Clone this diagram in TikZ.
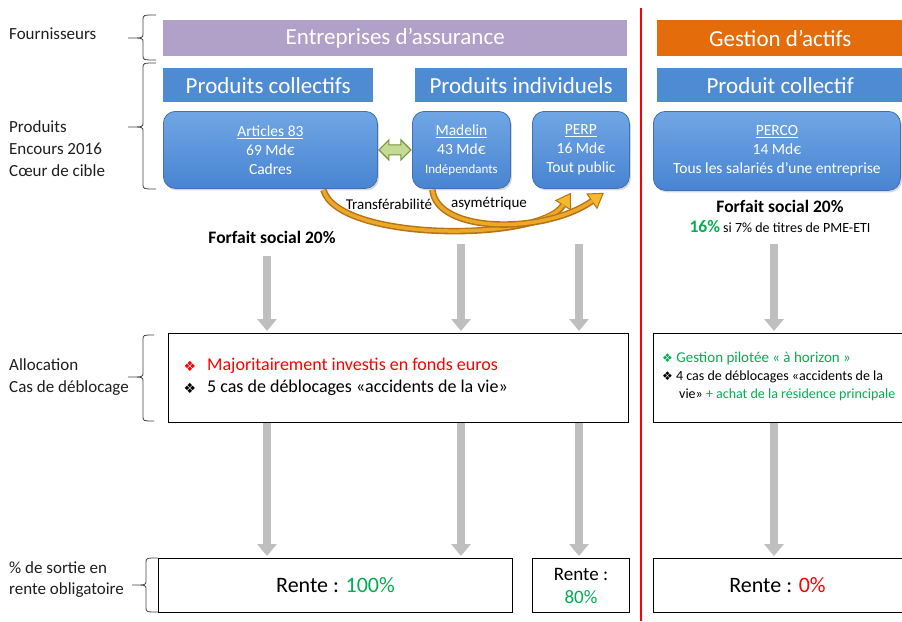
\documentclass[tikz,border=0pt]{standalone}
\usepackage{fontspec}
\setmainfont{Carlito}
\newfontfamily\dejavu{DejaVu Sans}
\usetikzlibrary{shadows,arrows.meta,calc}
\definecolor{purp}{RGB}{177,160,199}
\definecolor{orng}{RGB}{228,108,10}
\definecolor{barblue}{RGB}{79,139,211}
\definecolor{boxtop}{RGB}{112,166,228}
\definecolor{boxbot}{RGB}{72,132,210}
\definecolor{boxedge}{RGB}{62,112,178}
\definecolor{ogreen}{RGB}{0,176,80}
\definecolor{gry}{RGB}{191,191,191}
\definecolor{goldedge}{RGB}{185,115,20}
\definecolor{goldfill}{RGB}{236,168,40}
\definecolor{goldhead}{RGB}{245,185,45}
\definecolor{lgreen}{RGB}{196,218,150}
\definecolor{dgreen}{RGB}{118,150,60}
\definecolor{brc}{RGB}{70,70,70}
\newcommand{\mybul}{{\dejavu\fontsize{14}{15}\selectfont ❖}}
\newcommand{\fs}[1]{\fontsize{#1}{#1}\selectfont}
% #1 x of ends, #2 x of spine, #3 x of tip, #4 y top, #5 y bottom, #6 y tip
\newcommand{\mybrace}[6]{%
  \draw[bracestyle] (#1,#4) .. controls (#2,#4) .. (#2,#4+5) -- (#2,#6-4)
    .. controls (#2,#6) .. (#3,#6) .. controls (#2,#6) .. (#2,#6+4)
    -- (#2,#5-5) .. controls (#2,#5) .. (#1,#5);}
\begin{document}
\begin{tikzpicture}[x=1pt,y=-1pt,
  bar/.style={anchor=north west, minimum height=36, inner sep=0, text=white, font=\fs{23}},
  prodbox/.style={anchor=north west, rounded corners=12, top color=boxtop, bottom color=boxbot,
    draw=boxedge, line width=0.8, drop shadow={opacity=0.3, shadow xshift=1.5pt, shadow yshift=-2pt},
    text=white, align=center, inner sep=0},
  framebox/.style={anchor=north west, draw=black, line width=1, inner sep=0},
  lbl/.style={anchor=west, align=left, inner sep=0, text=black!88},
  bracestyle/.style={draw=brc, line width=0.8},
  grayarrow/.style={draw=gry, line width=8, -{Triangle[length=12,width=19]}},
  goldout/.style={draw=goldedge, line width=6.5, -{Triangle[length=15,width=19,color=goldedge,fill=goldhead,line width=1]}},
  goldin/.style={draw=goldfill, line width=3.5, shorten >=14},
  txt/.style={inner sep=0}
]
\useasboundingbox (0,0) rectangle (902,621);
\fill[white] (0,0) rectangle (902,621);

% left labels
\node[lbl, font=\fs{17}] (lf) at (9,34) {Fournisseurs};
\node[lbl, font=\fontsize{17}{22}\selectfont] (lp) at (9,149) {Produits\\Encours 2016\\Cœur de cible};
\node[lbl, font=\fontsize{17}{22}\selectfont] (la) at (9,377) {Allocation\\Cas de déblocage};
\node[lbl, font=\fontsize{17}{21}\selectfont] (ls) at (9,580) {\% de sortie en\\rente obligatoire};

% braces
\mybrace{156}{143}{128}{15}{60}{38}
\mybrace{156}{143}{128}{63}{189}{127}
\mybrace{154}{143}{128}{335}{421}{377}
\mybrace{158}{146}{132}{558}{612}{585}

% red divider
\draw[red, line width=2.6] (641,8) -- (641,621);

% bars
\node[bar, fill=purp, minimum width=464] (ea) at (163,20) {Entreprises d’assurance};
\node[bar, fill=orng, minimum width=246] (ga) at (657,20) {Gestion d’actifs};
\node[bar, fill=barblue, minimum width=210, minimum height=34] (pc) at (163,68) {Produits collectifs};
\node[bar, fill=barblue, minimum width=212, minimum height=34] (pi) at (415,68) {Produits individuels};
\node[bar, fill=barblue, minimum width=246, minimum height=34] (pc2) at (657,68) {Produit collectif};

% product boxes
\node[prodbox, minimum width=214, minimum height=77, font=\fontsize{15.5}{19}\selectfont] (art) at (163,111)
  {\underline{Articles 83}\\69 Md€\\Cadres};
\node[prodbox, minimum width=98, minimum height=77, font=\fontsize{15.5}{19}\selectfont] (mad) at (412,111)
  {\underline{Madelin}\\43 Md€\\{\fs{13}Indépendants}};
\node[prodbox, minimum width=97, minimum height=77, font=\fontsize{15.5}{19}\selectfont] (perp) at (532,111)
  {\underline{PERP}\\16 Md€\\Tout public};
\node[prodbox, minimum width=247, minimum height=79, font=\fontsize{15.5}{19}\selectfont] (perco) at (653,111)
  {\underline{PERCO}\\14 Md€\\Tous les salariés d’une entreprise};

% green double arrow
\path (art.east) -- (mad.west) coordinate[midway] (gam);
\draw[fill=lgreen, draw=dgreen, line width=1.1, shift={(gam)}]
  (-16,0) -- (-6,-10) -- (-6,-5) -- (6,-5) -- (6,-10) -- (16,0) -- (6,10) -- (6,5) -- (-6,5) -- (-6,10) -- cycle;

% orange transfer arrows
\coordinate (a1s) at ([xshift=53,yshift=-1]art.south);
\coordinate (a1e) at ([xshift=-10,yshift=-4]perp.south);
\coordinate (a2s) at ([xshift=-29,yshift=-1]mad.south);
\coordinate (a2e) at ([xshift=23,yshift=-4]perp.south);
\draw[goldout] (a1s) .. controls (338,242) and (540,242) .. (a1e);
\draw[goldin]  (a1s) .. controls (338,242) and (540,242) .. (a1e);
\draw[goldout] (a2s) .. controls (437,234) and (545,234) .. (a2e);
\draw[goldin]  (a2s) .. controls (437,234) and (545,234) .. (a2e);
\node[txt, font=\fs{15}] (tr) at (389,204) {Transférabilité};
\node[txt, font=\fs{15}] (as) at (489,204) {asymétrique};

% forfait social
\node[txt, font=\bfseries\fs{17.5}] (fs1) at (272,237) {Forfait social 20\%};
\node[txt, font=\bfseries\fs{17.5}] (fs2) at (780,206) {Forfait social 20\%};
\node[txt, font=\fs{14}] (fs3) at (780,227) {{\bfseries\fs{17.5}\color{ogreen}16\%} si 7\% de titres de PME-ETI};

% allocation boxes
\node[framebox, minimum width=460, minimum height=89] (al1) at (168,333) {};
\node[framebox, minimum width=252, minimum height=89] (al2) at (653,333) {};
\node[txt, text=red] (b1) at (190,366) {\mybul};
\node[txt, anchor=west, text=red, font=\fs{18}] (t1) at (207,366) {Majoritairement investis en fonds euros};
\node[txt] (b2) at (190,388) {\mybul};
\node[txt, anchor=west, font=\fs{18}] (t2) at (207,388) {5 cas de déblocages «accidents de la vie»};
\node[txt, anchor=west, text=ogreen, font=\fs{15}] (r1) at (662,358) {{\dejavu\fs{12}❖} Gestion pilotée « à horizon »};
\node[txt, anchor=west, font=\fs{14}] (r2) at (662,377) {{\dejavu\fs{12}❖} 4 cas de déblocages «accidents de la};
\node[txt, anchor=west, font=\fs{14}] (r3) at (679,395) {vie» {\color{ogreen}+ achat de la résidence principale}};

% rente boxes
\node[framebox, minimum width=354, minimum height=54] (re1) at (158,558) {};
\node[framebox, minimum width=97, minimum height=54] (re2) at (532,558) {};
\node[framebox, minimum width=252, minimum height=54] (re3) at (653,558) {};
\node[txt, font=\fs{22}] (rt1) at (re1.center) {Rente : {\color{ogreen}100\%}};
\node[txt, font=\fontsize{19}{23}\selectfont, align=center] (rt2) at (re2.center) {Rente :\\{\color{ogreen}80\%}};
\node[txt, font=\fs{22}] (rt3) at ([xshift=-2]re3.center) {Rente : {\color{red}0\%}};

% gray arrows
\coordinate (g1) at (267,256);
\coordinate (g2) at (461,244);
\coordinate (g3) at (579,244);
\coordinate (g4) at (774,244);
\draw[grayarrow, shorten >=2] (g1) -- (g1 |- al1.north);
\draw[grayarrow, shorten >=2] (g2) -- (g2 |- al1.north);
\draw[grayarrow, shorten >=2] (g3) -- (g3 |- al1.north);
\draw[grayarrow, shorten >=2] (g4) -- (g4 |- al2.north);
\draw[grayarrow, shorten >=2] (g1 |- al1.south) -- (g1 |- re1.north);
\draw[grayarrow, shorten >=2] (g2 |- al1.south) -- (g2 |- re1.north);
\draw[grayarrow, shorten >=2] (g3 |- al1.south) -- (g3 |- re2.north);
\draw[grayarrow, shorten >=2] (g4 |- al2.south) -- (g4 |- re3.north);
\end{tikzpicture}
\end{document}
